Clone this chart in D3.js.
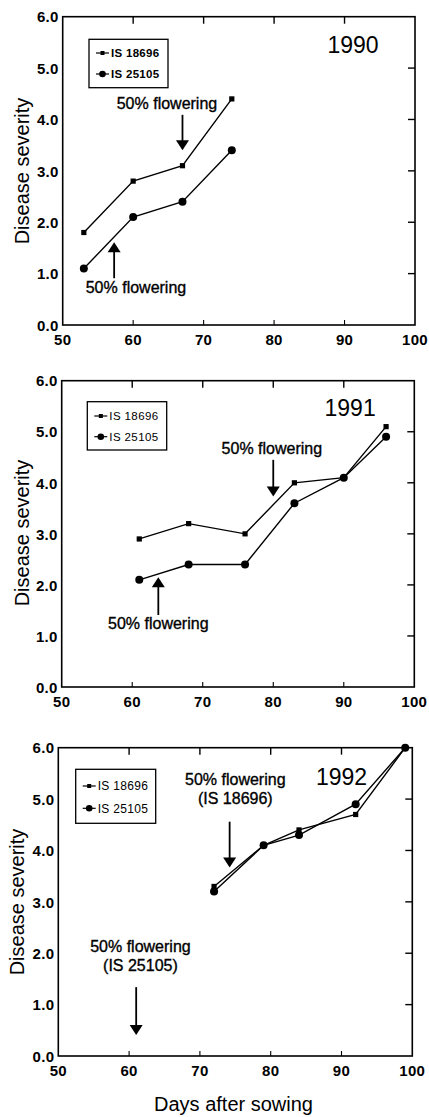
<!DOCTYPE html>
<html lang="en">
<head>
<meta charset="UTF-8">
<title>Disease severity by days after sowing</title>
<script src="https://d3js.org/d3.v7.min.js"></script>
<style>
  body { margin: 0; background: #fff; }
  svg { display: block; font-family: "Liberation Sans", Arial, Helvetica, sans-serif; }
</style>
</head>
<body>
<div id="chart"></div>
<script>
// ---- data ----
const years = ["1990", "1991", "1992"];
const seriesNames = ["IS 18696", "IS 25105"];
const xTicks = [50, 60, 70, 80, 90, 100];
const yTicks = [0, 1, 2, 3, 4, 5, 6];

const days1990 = [53, 60, 67, 74];
const is18696_1990 = [1.8, 2.8, 3.1, 4.4];
const is25105_1990 = [1.1, 2.1, 2.4, 3.4];

const days1991 = [61, 68, 76, 83, 90, 96];
const is18696_1991 = [2.9, 3.2, 3.0, 4.0, 4.1, 5.1];
const is25105_1991 = [2.1, 2.4, 2.4, 3.6, 4.1, 4.9];

const days1992 = [72, 79, 84, 92, 99];
const is18696_1992 = [3.3, 4.1, 4.4, 4.7, 6.0];
const is25105_1992 = [3.2, 4.1, 4.3, 4.9, 6.0];

// 50% flowering arrows: day, tail value, tip value ; text lines at (day, value)
const arrows1990 = [
  { day: 67, from: 4.09, to: 3.40, lines: ["50% flowering"], tx: 64.8, ty: [4.2] },
  { day: 57.3, from: 0.91, to: 1.61, lines: ["50% flowering"], tx: 60.4, ty: [0.62] }
];
const arrows1991 = [
  { day: 80, from: 4.45, to: 3.73, lines: ["50% flowering"], tx: 79.8, ty: [4.56] },
  { day: 63.7, from: 1.41, to: 2.15, lines: ["50% flowering"], tx: 63.7, ty: [1.14] }
];
const arrows1992 = [
  { day: 74.2, from: 4.56, to: 3.67, lines: ["50% flowering", "(IS 18696)"], tx: 75.0, ty: [5.27, 4.9] },
  { day: 61, from: 1.34, to: 0.41, lines: ["50% flowering", "(IS 25105)"], tx: 61.6, ty: [2.02, 1.65] }
];

// ---- layout ----
const W = 429, H = 1117;
const panels = [
  { year: years[0], days: days1990, a: is18696_1990, b: is25105_1990, arrows: arrows1990,
    left: 62.7, right: 415, top: 16.7, bottom: 325, yearAt: [91.2, 5.29],
    legend: { x: 26.3, y: 22.6, w: 79, h: 48.4, rows: [13.7, 34.7], font: "bold 11.5px", ls: 0.3 },
    ylab: [22, 171] },
  { year: years[1], days: days1991, a: is18696_1991, b: is25105_1991, arrows: arrows1991,
    left: 61.7, right: 414.3, top: 380.7, bottom: 687, yearAt: [90.9, 5.31],
    legend: { x: 25.6, y: 21, w: 79.4, h: 48.3, rows: [14.3, 35], font: "11.5px", ls: 0.4 },
    ylab: [22, 533] },
  { year: years[2], days: days1992, a: is18696_1992, b: is25105_1992, arrows: arrows1992,
    left: 58.3, right: 412.3, top: 747.7, bottom: 1056, yearAt: [90.0, 5.27],
    legend: { x: 17.4, y: 21.6, w: 80, h: 54, rows: [16.7, 39], font: "12px", ls: 0.3 },
    ylab: [17, 902] }
];

const svg = d3.select("#chart").append("svg")
  .attr("width", W)
  .attr("height", H);

// triangle head for arrows
function arrowHead(g, x, y, dir) {
  // dir = 1 pointing down, -1 pointing up
  const hw = 6.5, hh = 10;
  g.append("path")
    .attr("d", `M${x},${y} L${x - hw},${y - dir * hh} L${x + hw},${y - dir * hh} Z`)
    .attr("fill", "#000");
}

panels.forEach(function(p, pi) {
  const x = d3.scaleLinear().domain([50, 100]).range([p.left, p.right]);
  const y = d3.scaleLinear().domain([0, 6]).range([p.bottom, p.top]);
  const g = svg.append("g");

  // frame
  g.append("rect")
    .attr("x", p.left).attr("y", p.top)
    .attr("width", p.right - p.left).attr("height", p.bottom - p.top)
    .attr("fill", "none").attr("stroke", "#000").attr("stroke-width", 1.6);

  // inward ticks: top, bottom, right
  xTicks.slice(1, -1).forEach(function(t) {
    g.append("line").attr("x1", x(t)).attr("x2", x(t))
      .attr("y1", p.top).attr("y2", p.top + 7)
      .attr("stroke", "#000").attr("stroke-width", 1.4);
    g.append("line").attr("x1", x(t)).attr("x2", x(t))
      .attr("y1", p.bottom).attr("y2", p.bottom - 5)
      .attr("stroke", "#000").attr("stroke-width", 1.1);
  });
  yTicks.slice(1, -1).forEach(function(t) {
    g.append("line").attr("x1", p.right).attr("x2", p.right - 7)
      .attr("y1", y(t)).attr("y2", y(t))
      .attr("stroke", "#000").attr("stroke-width", 1.4);
  });

  // tick labels
  g.selectAll(".xl").data(xTicks).enter().append("text")
    .attr("x", d => x(d)).attr("y", p.bottom + 20)
    .attr("text-anchor", "middle")
    .attr("font-size", 15).attr("font-weight", "bold").attr("letter-spacing", 0.3)
    .text(d => d);
  g.selectAll(".yl").data(yTicks).enter().append("text")
    .attr("x", p.left - 4).attr("y", d => y(d))
    .attr("dy", "0.38em")
    .attr("text-anchor", "end")
    .attr("font-size", 15).attr("font-weight", "bold").attr("letter-spacing", 0.3)
    .text(d => d.toFixed(1));

  // y axis title
  g.append("text")
    .attr("transform", `translate(${p.ylab[0]},${p.ylab[1]}) rotate(-90)`)
    .attr("dy", "0.35em")
    .attr("text-anchor", "middle")
    .attr("font-size", 20)
    .text("Disease severity");

  // series lines
  const line = d3.line().x(d => x(d[0])).y(d => y(d[1]));
  const ptsA = p.days.map((d, i) => [d, p.a[i]]);
  const ptsB = p.days.map((d, i) => [d, p.b[i]]);
  [ptsA, ptsB].forEach(function(pts) {
    g.append("path").datum(pts).attr("d", line)
      .attr("fill", "none").attr("stroke", "#000").attr("stroke-width", 1.4);
  });
  g.selectAll(".sq").data(ptsA).enter().append("rect")
    .attr("x", d => x(d[0]) - 2.6).attr("y", d => y(d[1]) - 2.6)
    .attr("width", 5.2).attr("height", 5.2).attr("fill", "#000");
  g.selectAll(".ci").data(ptsB).enter().append("circle")
    .attr("cx", d => x(d[0])).attr("cy", d => y(d[1]))
    .attr("r", 4).attr("fill", "#000");

  // year label
  g.append("text")
    .attr("x", x(p.yearAt[0])).attr("y", y(p.yearAt[1]))
    .attr("text-anchor", "middle").attr("font-size", 23)
    .text(p.year);

  // flowering arrows
  p.arrows.forEach(function(a) {
    const ax = x(a.day), y0 = y(a.from), y1 = y(a.to);
    const dir = y1 > y0 ? 1 : -1;
    g.append("line").attr("x1", ax).attr("x2", ax)
      .attr("y1", y0).attr("y2", y1 - dir * 8)
      .attr("stroke", "#000").attr("stroke-width", 1.8);
    arrowHead(g, ax, y1, dir);
    a.lines.forEach(function(s, k) {
      g.append("text")
        .attr("x", x(a.tx)).attr("y", y(a.ty[k]))
        .attr("text-anchor", "middle").attr("font-size", 16)
        .attr("stroke", "#000").attr("stroke-width", 0.35)
        .text(s);
    });
  });

  // legend
  const L = p.legend;
  const lg = g.append("g").attr("transform", `translate(${p.left + L.x},${p.top + L.y})`);
  lg.append("rect").attr("width", L.w).attr("height", L.h)
    .attr("fill", "#fff").attr("stroke", "#000").attr("stroke-width", 1.3);
  seriesNames.forEach(function(name, k) {
    const ry = L.rows[k];
    lg.append("line").attr("x1", 7).attr("x2", 20).attr("y1", ry).attr("y2", ry)
      .attr("stroke", "#000").attr("stroke-width", 1.2);
    if (k === 0) {
      lg.append("rect").attr("x", 11.5).attr("y", ry - 2).attr("width", 4).attr("height", 4).attr("fill", "#000");
    } else {
      lg.append("circle").attr("cx", 13.5).attr("cy", ry).attr("r", 3.3).attr("fill", "#000");
    }
    lg.append("text").attr("x", 22).attr("y", ry).attr("dy", "0.36em")
      .style("font", L.font + " 'Liberation Sans', Arial, sans-serif")
      .attr("letter-spacing", L.ls)
      .text(name);
  });
});

// shared x axis title
svg.append("text")
  .attr("x", 233.5).attr("y", 1111)
  .attr("text-anchor", "middle").attr("font-size", 20)
  .text("Days after sowing");
</script>
</body>
</html>
